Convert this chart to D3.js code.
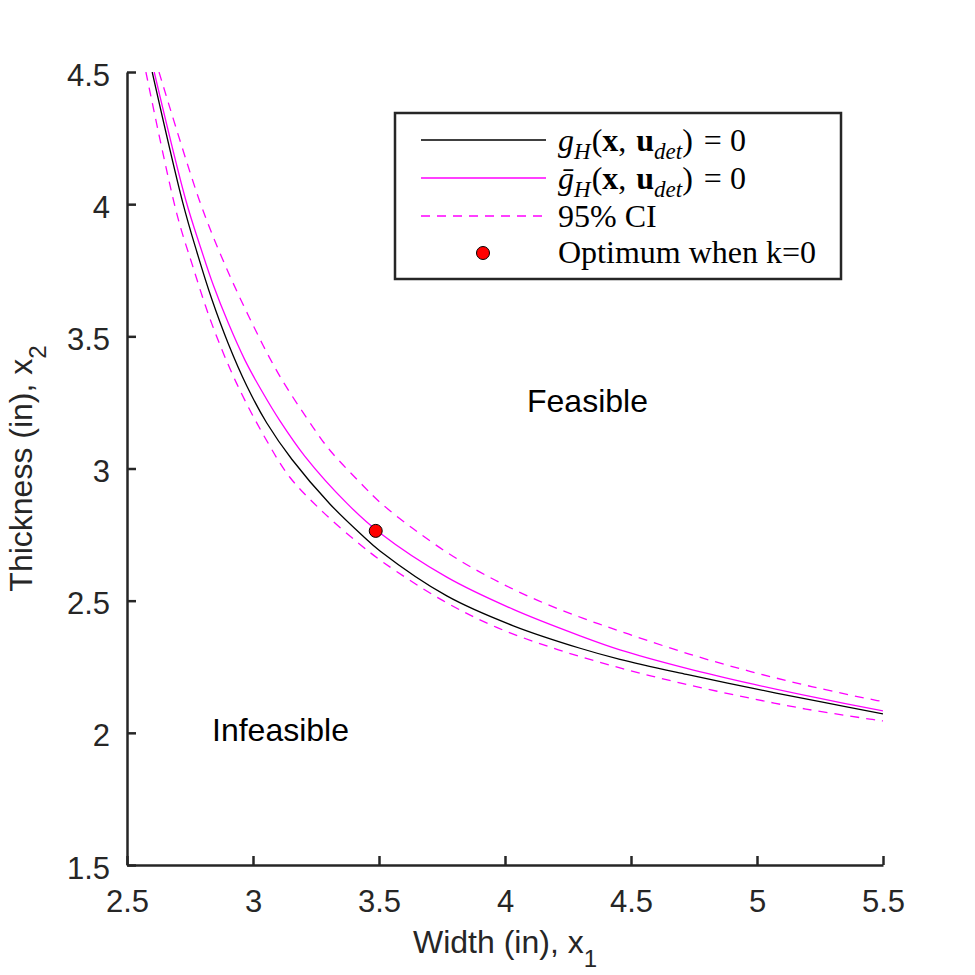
<!DOCTYPE html>
<html>
<head>
<meta charset="utf-8">
<script src="https://cdn.jsdelivr.net/npm/d3@7"></script>
<style>
  body { margin: 0; background: #fff; }
</style>
</head>
<body>
<div id="chart"></div>
<script>
// Values (x1 = width, x2 = thickness)
var gX1 = [2.600, 2.721, 2.777, 2.836, 2.902, 2.975, 3.054, 3.154, 3.306, 3.437, 3.504, 3.769, 4.033, 4.298, 4.456, 4.721, 4.985, 5.250, 5.500];
var gX2 = [4.500, 4.007, 3.820, 3.642, 3.472, 3.313, 3.173, 3.035, 2.865, 2.744, 2.688, 2.518, 2.405, 2.320, 2.278, 2.221, 2.168, 2.118, 2.072];

var meanX1 = [2.608, 2.734, 2.790, 2.842, 2.902, 2.968, 3.035, 3.107, 3.206, 3.373, 3.504, 3.769, 4.033, 4.298, 4.456, 4.721, 4.985, 5.250, 5.500];
var meanX2 = [4.500, 4.013, 3.842, 3.695, 3.550, 3.410, 3.293, 3.180, 3.046, 2.868, 2.756, 2.589, 2.467, 2.367, 2.314, 2.244, 2.184, 2.130, 2.083];

var upX1 = [2.627, 2.787, 2.876, 2.981, 3.100, 3.239, 3.306, 3.437, 3.504, 3.636, 3.795, 3.960, 4.132, 4.311, 4.489, 4.731, 4.975, 5.221, 5.468, 5.500];
var upX2 = [4.500, 4.015, 3.799, 3.580, 3.360, 3.155, 3.068, 2.935, 2.872, 2.772, 2.667, 2.578, 2.500, 2.433, 2.374, 2.298, 2.232, 2.174, 2.124, 2.119];

var loX1 = [2.575, 2.697, 2.757, 2.836, 2.935, 3.054, 3.147, 3.278, 3.413, 3.517, 3.754, 3.967, 4.212, 4.463, 4.698, 4.948, 5.194, 5.448, 5.500];
var loX2 = [4.500, 3.966, 3.777, 3.549, 3.322, 3.106, 2.966, 2.835, 2.722, 2.645, 2.500, 2.399, 2.314, 2.244, 2.188, 2.136, 2.090, 2.052, 2.045];

var optimum = [3.487, 2.764];

var xTicks = [2.5, 3, 3.5, 4, 4.5, 5, 5.5];
var yTicks = [1.5, 2, 2.5, 3, 3.5, 4, 4.5];

var width = 975;
var height = 975;
var plotLeft = 127, plotRight = 883, plotTop = 72, plotBottom = 865;
var axisColor = "#262626";
var sans = "'Liberation Sans', Arial, Helvetica, sans-serif";
var serif = "'Liberation Serif', 'Times New Roman', serif";

var svg = d3.select("#chart")
  .append("svg")
  .attr("width", width)
  .attr("height", height)
  .style("background", "#fff");

var x = d3.scaleLinear().domain([2.5, 5.5]).range([plotLeft, plotRight]);
var y = d3.scaleLinear().domain([1.5, 4.5]).range([plotBottom, plotTop]);

function pairs(a, b) {
  return a.map(function(v, i) { return [v, b[i]]; });
}

svg.append("clipPath")
  .attr("id", "plot-clip")
  .append("rect")
  .attr("x", plotLeft)
  .attr("y", plotTop)
  .attr("width", plotRight - plotLeft)
  .attr("height", plotBottom - plotTop);

var line = d3.line()
  .x(function(d) { return x(d[0]); })
  .y(function(d) { return y(d[1]); })
  .curve(d3.curveCatmullRom.alpha(0.5));

var curves = svg.append("g").attr("clip-path", "url(#plot-clip)");

// confidence band edges
[pairs(upX1, upX2), pairs(loX1, loX2)].forEach(function(pts) {
  curves.append("path")
    .datum(pts)
    .attr("d", line)
    .attr("fill", "none")
    .attr("stroke", "#ff00ff")
    .attr("stroke-width", 1.3)
    .attr("stroke-dasharray", "9,7");
});

curves.append("path")
  .datum(pairs(gX1, gX2))
  .attr("d", line)
  .attr("fill", "none")
  .attr("stroke", "#000")
  .attr("stroke-width", 1.3);

curves.append("path")
  .datum(pairs(meanX1, meanX2))
  .attr("d", line)
  .attr("fill", "none")
  .attr("stroke", "#ff00ff")
  .attr("stroke-width", 1.3);

svg.append("circle")
  .attr("cx", x(optimum[0]))
  .attr("cy", y(optimum[1]))
  .attr("r", 6.5)
  .attr("fill", "#ff0000")
  .attr("stroke", "#000")
  .attr("stroke-width", 1);

// axes, ticks pointing inward
var xAxis = svg.append("g")
  .attr("transform", "translate(0," + plotBottom + ")")
  .call(d3.axisBottom(x).tickValues(xTicks).tickSizeInner(-9).tickSizeOuter(0).tickPadding(25).tickFormat(d3.format("")));

var yAxis = svg.append("g")
  .attr("transform", "translate(" + plotLeft + ",0)")
  .call(d3.axisLeft(y).tickValues(yTicks).tickSizeInner(-9).tickSizeOuter(0).tickPadding(17).tickFormat(d3.format("")));

[xAxis, yAxis].forEach(function(ax) {
  ax.select(".domain").attr("stroke", axisColor).attr("stroke-width", 2.5);
  ax.selectAll(".tick line").attr("stroke", axisColor).attr("stroke-width", 2.5);
  ax.selectAll(".tick text")
    .attr("fill", axisColor)
    .style("font-family", sans)
    .style("font-size", "31px");
});
yAxis.selectAll(".tick text").attr("dy", "0.42em");

// axis labels
var xLabel = svg.append("text")
  .attr("x", (plotLeft + plotRight) / 2)
  .attr("y", 953)
  .attr("text-anchor", "middle")
  .attr("fill", axisColor)
  .style("font-family", sans)
  .style("font-size", "32px");
xLabel.append("tspan").text("Width (in), x");
xLabel.append("tspan").attr("dy", 14).style("font-size", "24px").text("1");

var yLabel = svg.append("text")
  .attr("transform", "translate(32," + (plotTop + plotBottom) / 2 + ") rotate(-90)")
  .attr("text-anchor", "middle")
  .attr("fill", axisColor)
  .style("font-family", sans)
  .style("font-size", "32px");
yLabel.append("tspan").text("Thickness (in), x");
yLabel.append("tspan").attr("dy", 14).style("font-size", "24px").text("2");

// region annotations
svg.append("text")
  .attr("x", 527)
  .attr("y", 412)
  .style("font-family", sans)
  .style("font-size", "32px")
  .attr("fill", "#000")
  .text("Feasible");

svg.append("text")
  .attr("x", 212)
  .attr("y", 741)
  .style("font-family", sans)
  .style("font-size", "32px")
  .attr("fill", "#000")
  .text("Infeasible");

// legend
var legend = svg.append("g");
legend.append("rect")
  .attr("x", 395)
  .attr("y", 113)
  .attr("width", 446)
  .attr("height", 166)
  .attr("fill", "#fff")
  .attr("stroke", axisColor)
  .attr("stroke-width", 2.5);

var rowY = [140, 178, 216, 253];
var lineX0 = 421, lineX1 = 546, textX = 558;

function mathText(parent, yy, parts) {
  var t = parent.append("text")
    .attr("x", textX)
    .attr("y", yy)
    .attr("fill", "#000")
    .style("font-family", serif)
    .style("font-size", "32px");
  var shift = 0;
  parts.forEach(function(p) {
    var s = t.append("tspan").text(p.t);
    var target = p.sub ? 8 : 0;
    if (target !== shift) { s.attr("dy", target - shift); shift = target; }
    if (p.sub) s.style("font-size", "23px");
    if (p.i) s.style("font-style", "italic");
    if (p.b) s.style("font-weight", "bold");
    if (p.dx) s.attr("dx", p.dx);
  });
  return t;
}

legend.append("line")
  .attr("x1", lineX0).attr("x2", lineX1)
  .attr("y1", rowY[0]).attr("y2", rowY[0])
  .attr("stroke", "#000").attr("stroke-width", 1.3);
mathText(legend, rowY[0] + 11, [
  { t: "g", i: true }, { t: "H", i: true, sub: true }, { t: "(", dx: 1 },
  { t: "x", b: true }, { t: ", " }, { t: "u", b: true, dx: 2 },
  { t: "det", i: true, sub: true }, { t: ")" }, { t: " = 0", dx: 3 }
]);

legend.append("line")
  .attr("x1", lineX0).attr("x2", lineX1)
  .attr("y1", rowY[1]).attr("y2", rowY[1])
  .attr("stroke", "#ff00ff").attr("stroke-width", 1.3);
mathText(legend, rowY[1] + 11, [
  { t: "\u1E21", i: true }, { t: "H", i: true, sub: true }, { t: "(", dx: 1 },
  { t: "x", b: true }, { t: ", " }, { t: "u", b: true, dx: 2 },
  { t: "det", i: true, sub: true }, { t: ")" }, { t: " = 0", dx: 3 }
]);

legend.append("line")
  .attr("x1", lineX0).attr("x2", lineX1 - 4)
  .attr("y1", rowY[2]).attr("y2", rowY[2])
  .attr("stroke", "#ff00ff").attr("stroke-width", 1.3)
  .attr("stroke-dasharray", "9,7");
mathText(legend, rowY[2] + 11, [{ t: "95% CI" }]);

legend.append("circle")
  .attr("cx", 483).attr("cy", rowY[3])
  .attr("r", 6.5)
  .attr("fill", "#ff0000")
  .attr("stroke", "#000")
  .attr("stroke-width", 1);
mathText(legend, rowY[3] + 10, [{ t: "Optimum when k=0" }]);
</script>
</body>
</html>
